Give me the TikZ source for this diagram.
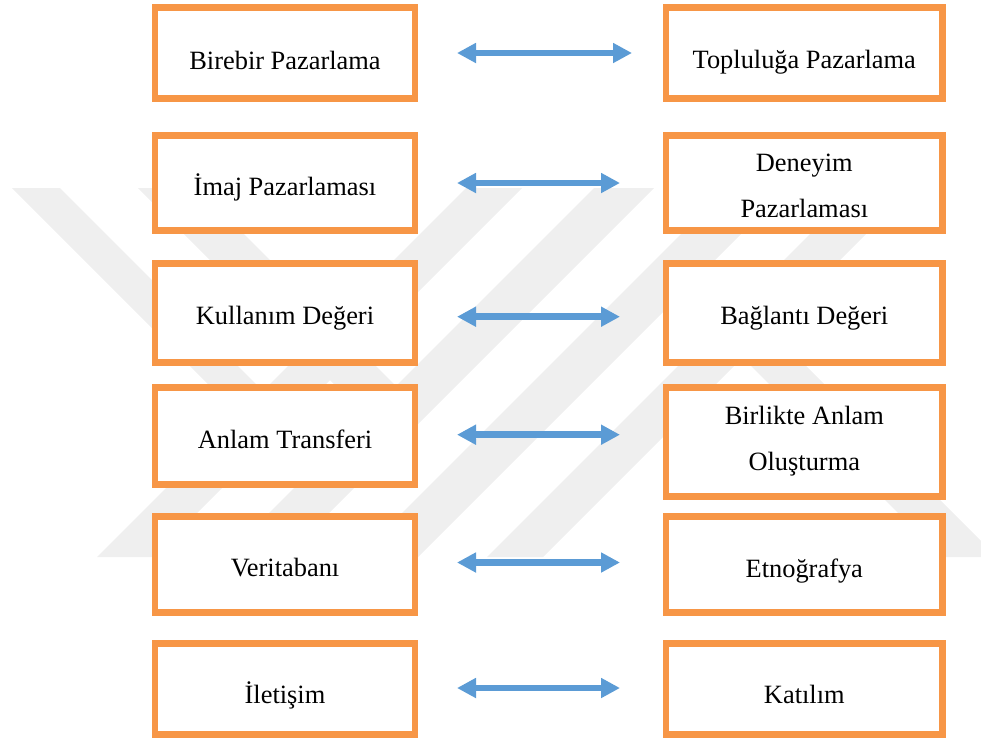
\documentclass[tikz,border=0pt]{standalone}
\usepackage{fontspec}
\setmainfont{Liberation Serif}
\usetikzlibrary{arrows.meta}
\definecolor{boxorange}{HTML}{F79646}
\definecolor{arrowblue}{HTML}{5B9BD5}
\definecolor{markgray}{RGB}{239,239,239}

\begin{document}
\begin{tikzpicture}[x=1pt,y=-1pt,
  box/.style={draw=boxorange, line width=6.7pt, fill=white, inner sep=0pt},
  boxtext/.style={font=\fontsize{26.4}{46}\selectfont, anchor=base, align=center, inner sep=0pt},
  link/.style={draw=arrowblue, line width=6.5pt,
    {Triangle[length=19pt,width=19pt]}-{Triangle[length=19pt,width=19pt]}},
  band/.style={fill=markgray}]

\useasboundingbox (0,0) rectangle (981,740);

% faint emblem in the background
\fill[band] (12,188) -- (60,188) -- (277,405) -- (253,429) -- cycle;
\fill[band] (138,188) -- (198,188) -- (411,401) -- (381,431) -- cycle;
\fill[band] (466,188) -- (522,188) -- (153,557) -- (97,557) -- cycle;
\fill[band] (594,188) -- (654,188) -- (285,557) -- (225,557) -- cycle;
\fill[band] (727,188) -- (787,188) -- (418,557) -- (358,557) -- cycle;
\fill[band] (856,188) -- (912,188) -- (543,557) -- (487,557) -- cycle;
\fill[band] (756,316) -- (728.5,343.5) -- (942,557) -- (981,557) -- (981,541) -- cycle;

% left column
\node[box, minimum width=260pt, minimum height=91.3pt] (L1) at (285,53) {};
\node[box, minimum width=260pt, minimum height=95.3pt] (L2) at (285,183) {};
\node[box, minimum width=260pt, minimum height=99.3pt] (L3) at (285,313) {};
\node[box, minimum width=260pt, minimum height=97.3pt] (L4) at (285,436) {};
\node[box, minimum width=260pt, minimum height=96.3pt] (L5) at (285,564.5) {};
\node[box, minimum width=260pt, minimum height=91.3pt] (L6) at (285,689) {};

% right column
\node[box, minimum width=276.6pt, minimum height=91.3pt] (R1) at (804.3,53) {};
\node[box, minimum width=276.6pt, minimum height=95.3pt] (R2) at (804.3,183) {};
\node[box, minimum width=276.6pt, minimum height=99.3pt] (R3) at (804.3,313) {};
\node[box, minimum width=276.6pt, minimum height=109.3pt] (R4) at (804.3,442) {};
\node[box, minimum width=276.6pt, minimum height=96.3pt] (R5) at (804.3,564.5) {};
\node[box, minimum width=276.6pt, minimum height=91.3pt] (R6) at (804.3,689) {};

% box captions (anchored on the baseline of the last line)
\node[boxtext] (L1t) at (285,69.3) {Birebir Pazarlama};
\node[boxtext] (L2t) at (285,195) {İmaj Pazarlaması};
\node[boxtext] (L3t) at (285,324) {Kullanım Değeri};
\node[boxtext] (L4t) at (285,448.3) {Anlam Transferi};
\node[boxtext] (L5t) at (285,576.7) {Veritabanı};
\node[boxtext] (L6t) at (285,703) {İletişim};

\node[boxtext] (R1t) at (804.3,68.3) {Topluluğa Pazarlama};
\node[boxtext] (R2t) at (804.3,217.5) {Deneyim\\Pazarlaması};
\node[boxtext] (R3t) at (804.3,324.6) {Bağlantı Değeri};
\node[boxtext] (R4t) at (804.3,470) {Birlikte Anlam\\Oluşturma};
\node[boxtext] (R5t) at (804.3,577.9) {Etnoğrafya};
\node[boxtext] (R6t) at (804.3,703) {Katılım};

% two-headed links between the columns
\coordinate (s1) at (L1.east);
\coordinate (s2) at (L2.east);
\coordinate (s3) at ([yshift=-3.7pt]L3.east);
\coordinate (s4) at ([yshift=1.3pt]L4.east);
\coordinate (s5) at ([yshift=2pt]L5.east);
\coordinate (s6) at ([yshift=1pt]L6.east);

\draw[link, shorten <=38.65pt, shorten >=30.65pt] (s1) -- (s1 -| R1.west);
\draw[link, shorten <=38.65pt, shorten >=42.65pt] (s2) -- (s2 -| R2.west);
\draw[link, shorten <=38.65pt, shorten >=42.65pt] (s3) -- (s3 -| R3.west);
\draw[link, shorten <=38.65pt, shorten >=42.65pt] (s4) -- (s4 -| R4.west);
\draw[link, shorten <=38.65pt, shorten >=42.65pt] (s5) -- (s5 -| R5.west);
\draw[link, shorten <=38.65pt, shorten >=42.65pt] (s6) -- (s6 -| R6.west);
\end{tikzpicture}
\end{document}
